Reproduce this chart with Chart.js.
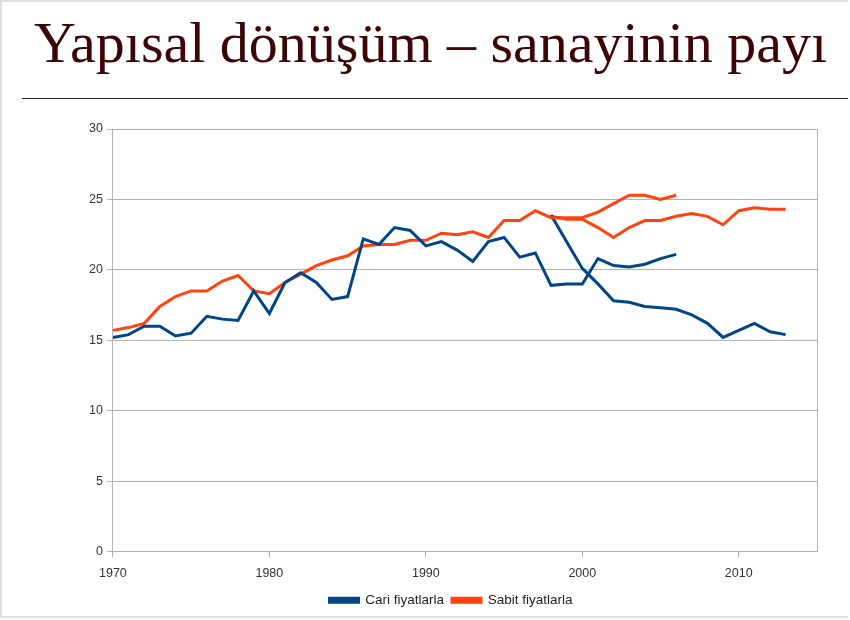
<!DOCTYPE html>
<html>
<head>
<meta charset="utf-8">
<script src="https://cdn.jsdelivr.net/npm/chart.js@4"></script>
<style>
  html, body { margin: 0; padding: 0; background: #fff; }
  #page { position: relative; width: 846px; height: 614px; border: 2px solid #ddd; border-right: none; overflow: hidden; }
  h1 { position: absolute; left: 32px; top: 12px; margin: 0; font: 58px/58px "Liberation Serif", serif; color: #3d0505; font-weight: normal; white-space: nowrap; }
  #rule { position: absolute; left: 20px; right: 0; top: 96px; height: 0; border-top: 1.5px solid #222; }
  #wrap { position: absolute; left: 0; top: 108px; width: 846px; height: 512px; }
</style>
</head>
<body>
<div id="page">
  <h1>Yapısal dönüşüm – sanayinin payı</h1>
  <div id="rule"></div>
  <div id="wrap"><canvas id="myChart"></canvas></div>
</div>
<script>
// old base: 1970-2006, new base: 1998-2013
const yearsOld = [1970, 1971, 1972, 1973, 1974, 1975, 1976, 1977, 1978, 1979, 1980, 1981, 1982, 1983, 1984, 1985, 1986, 1987, 1988, 1989, 1990, 1991, 1992, 1993, 1994, 1995, 1996, 1997, 1998, 1999, 2000, 2001, 2002, 2003, 2004, 2005, 2006];
const yearsNew = [1998, 1999, 2000, 2001, 2002, 2003, 2004, 2005, 2006, 2007, 2008, 2009, 2010, 2011, 2012, 2013];

const cariOld = [15.2, 15.4, 16.0, 16.0, 15.3, 15.5, 16.7, 16.5, 16.4, 18.5, 16.9, 19.1, 19.8, 19.1, 17.9, 18.1, 22.2, 21.8, 23.0, 22.8, 21.7, 22.0, 21.4, 20.6, 22.0, 22.3, 20.9, 21.2, 18.9, 19.0, 19.0, 20.8, 20.3, 20.2, 20.4, 20.8, 21.1];
const cariNew = [23.9, 22.0, 20.1, 19.0, 17.8, 17.7, 17.4, 17.3, 17.2, 16.8, 16.2, 15.2, 15.7, 16.2, 15.6, 15.4];
const sabitOld = [15.7, 15.9, 16.2, 17.4, 18.1, 18.5, 18.5, 19.2, 19.6, 18.5, 18.3, 19.1, 19.7, 20.3, 20.7, 21.0, 21.7, 21.8, 21.8, 22.1, 22.1, 22.6, 22.5, 22.7, 22.3, 23.5, 23.5, 24.2, 23.7, 23.7, 23.7, 24.1, 24.7, 25.3, 25.3, 25.0, 25.3];
const sabitNew = [23.8, 23.6, 23.6, 23.0, 22.3, 23.0, 23.5, 23.5, 23.8, 24.0, 23.8, 23.2, 24.2, 24.4, 24.3, 24.3];

const xTicks = [1970, 1980, 1990, 2000, 2010];

const blue = '#004586';
const orange = '#ff420e';

function pts(xs, ys) {
  return xs.map((x, i) => ({ x: x, y: ys[i] }));
}

function line(label, xs, ys, color) {
  return {
    label: label,
    data: pts(xs, ys),
    borderColor: color,
    backgroundColor: color,
    borderWidth: 3,
    pointRadius: 0,
    tension: 0,
  };
}

// right edge of the plot frame
const frame = {
  id: 'frame',
  afterDraw(c) {
    const a = c.chartArea;
    const g = c.ctx;
    g.save();
    g.strokeStyle = '#b3b3b3';
    g.lineWidth = 1;
    g.beginPath();
    g.moveTo(a.right + 0.5, a.top);
    g.lineTo(a.right + 0.5, a.bottom);
    g.stroke();
    g.restore();
  }
};

const ctx = document.getElementById('myChart').getContext('2d');

const chart = new Chart(ctx, {
  type: 'line',
  data: {
    datasets: [
      line('Cari fiyatlarla', yearsOld, cariOld, blue),
      line('Sabit fiyatlarla', yearsOld, sabitOld, orange),
      line('Cari fiyatlarla (yeni)', yearsNew, cariNew, blue),
      line('Sabit fiyatlarla (yeni)', yearsNew, sabitNew, orange),
    ],
  },
  options: {
    responsive: true,
    maintainAspectRatio: false,
    animation: false,
    layout: { padding: { left: 83, right: 31, top: 19, bottom: 5 } },
    plugins: {
      tooltip: { enabled: false },
      legend: {
        position: 'bottom',
        labels: {
          filter: item => item.datasetIndex < 2,
          boxWidth: 29,
          boxHeight: 4,
          padding: 8,
          color: '#222',
          font: { family: 'Liberation Sans', size: 13.5 },
        },
      },
    },
    scales: {
      x: {
        type: 'linear',
        min: 1970,
        max: 2015,
        afterBuildTicks: axis => { axis.ticks = xTicks.map(v => ({ value: v })); },
        afterFit: axis => { axis.height -= 5; },
        grid: { drawOnChartArea: false, tickLength: 6, color: '#b3b3b3' },
        border: { color: '#b3b3b3' },
        ticks: {
          color: '#333',
          padding: 9,
          font: { family: 'Liberation Sans', size: 12.5 },
          maxRotation: 0,
          callback: v => String(v),
        },
      },
      y: {
        min: 0,
        max: 30,
        ticks: {
          stepSize: 5,
          color: '#333',
          padding: 4,
          font: { family: 'Liberation Sans', size: 12.5 },
        },
        grid: { color: '#b3b3b3', tickLength: 6 },
        border: { color: '#b3b3b3' },
      },
    },
  },
  plugins: [frame],
});
</script>
</body>
</html>
